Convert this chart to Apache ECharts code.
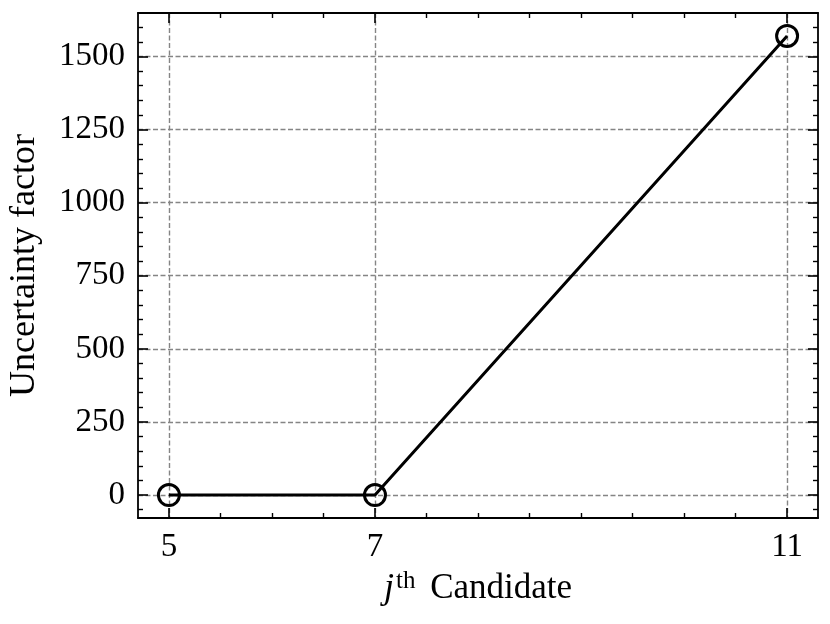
<!DOCTYPE html>
<html>
<head>
<meta charset="utf-8">
<script src="https://cdn.jsdelivr.net/npm/echarts@6/dist/echarts.min.js"></script>
<style>
  html, body { margin: 0; padding: 0; background: #fff; }
  #chart { width: 830px; height: 624px; }
</style>
</head>
<body>
<div id="chart"></div>
<script>
// candidates (x) and uncertainty factor (y)
var candidates = [5, 7, 11]
var uncertainty = [0, 0, 1570]

// tick positions
var xMajorTicks = [5, 7, 11]
var xMinorTicks = [5.5, 6, 6.5, 7.5, 8, 8.5, 9, 9.5, 10, 10.5]
var yMajorTicks = [0, 250, 500, 750, 1000, 1250, 1500]
var yMinorTicks = [-50, 50, 100, 150, 200, 300, 350, 400, 450, 550, 600, 650, 700,
  800, 850, 900, 950, 1050, 1100, 1150, 1200, 1300, 1350, 1400, 1450, 1550, 1600]

var xRange = [4.7, 11.3]
var yRange = [-78.5, 1648.5]

var font = '"Liberation Serif", "DejaVu Serif", serif'
var ink = '#000'
var gridColor = '#858585'

function majorAxis(pos, ticks, range, withLabels) {
  return {
    type: 'value',
    position: pos,
    min: range[0],
    max: range[1],
    axisLine: { show: true, onZero: false, lineStyle: { color: ink, width: 1.8 } },
    axisTick: { show: true, inside: true, length: 10, customValues: ticks, lineStyle: { color: ink, width: 1.6 } },
    axisLabel: {
      show: withLabels,
      customValues: ticks,
      formatter: function (v) { return String(v) },
      color: ink,
      fontFamily: font,
      fontSize: 33,
      margin: 13
    },
    splitLine: {
      show: withLabels,
      lineStyle: { color: gridColor, width: 1.4, type: [5, 2.5] }
    }
  }
}

function minorAxis(pos, ticks, range) {
  return {
    type: 'value',
    position: pos,
    min: range[0],
    max: range[1],
    axisLine: { show: false, onZero: false },
    axisTick: { show: true, inside: true, length: 5, customValues: ticks, lineStyle: { color: ink, width: 1.4 } },
    axisLabel: { show: false },
    splitLine: { show: false }
  }
}

var xBottom = majorAxis('bottom', xMajorTicks, xRange, true)
xBottom.name = '{i|j}{sup|th}{n| Candidate}'
xBottom.nameLocation = 'middle'
xBottom.nameGap = 44
xBottom.nameTextStyle = {
  color: ink,
  fontFamily: font,
  rich: {
    i: { fontFamily: font, fontStyle: 'italic', fontSize: 36, color: ink },
    sup: { fontFamily: font, fontSize: 25, color: ink, verticalAlign: 'top', padding: [0, 0, 14, 2] },
    n: { fontFamily: font, fontSize: 35, color: ink, padding: [0, 0, 0, 6] }
  }
}

var yLeft = majorAxis('left', yMajorTicks, yRange, true)
yLeft.name = 'Uncertainty factor'
yLeft.nameLocation = 'middle'
yLeft.nameGap = 95
yLeft.nameTextStyle = { color: ink, fontFamily: font, fontSize: 36 }

var chart = echarts.init(document.getElementById('chart'), null, { renderer: 'canvas' })
chart.setOption({
  animation: false,
  backgroundColor: '#fff',
  grid: { left: 138, right: 12, top: 13, bottom: 106, containLabel: false, outerBoundsMode: 'none' },
  xAxis: [
    xBottom,
    minorAxis('bottom', xMinorTicks, xRange),
    majorAxis('top', xMajorTicks, xRange, false),
    minorAxis('top', xMinorTicks, xRange)
  ],
  yAxis: [
    yLeft,
    minorAxis('left', yMinorTicks, yRange),
    majorAxis('right', yMajorTicks, yRange, false),
    minorAxis('right', yMinorTicks, yRange)
  ],
  series: [{
    type: 'line',
    xAxisIndex: 0,
    yAxisIndex: 0,
    data: candidates.map(function (c, i) { return [c, uncertainty[i]] }),
    symbol: 'circle',
    symbolSize: 21,
    showAllSymbol: true,
    lineStyle: { color: ink, width: 3 },
    itemStyle: { color: 'rgba(0,0,0,0)', borderColor: ink, borderWidth: 3 },
    z: 5
  }]
})
</script>
</body>
</html>
